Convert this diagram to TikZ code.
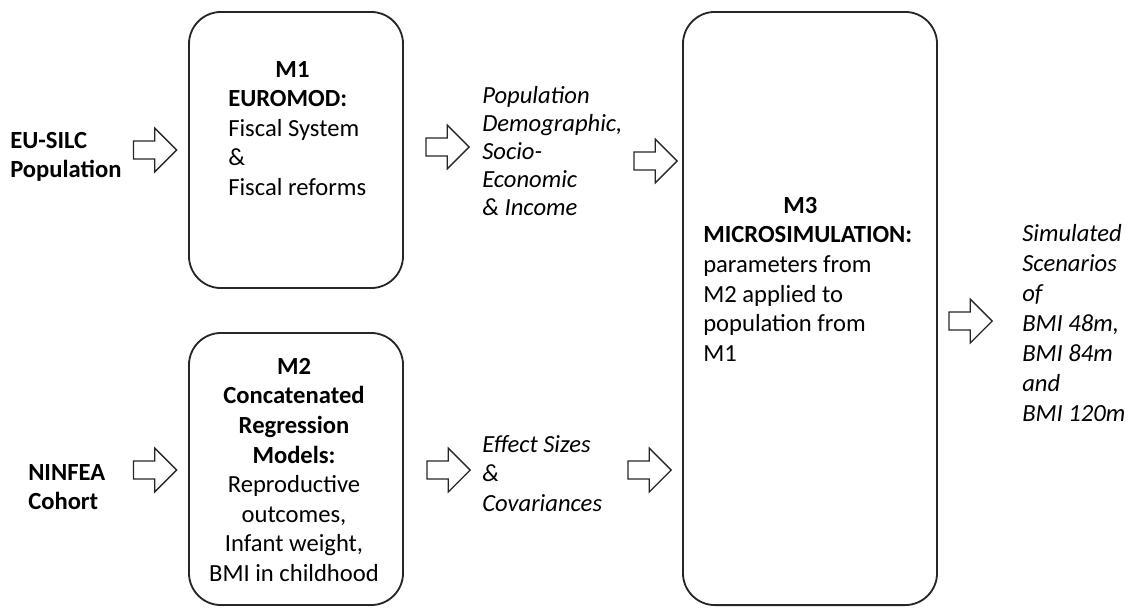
\documentclass[tikz,border=0pt]{standalone}
\usepackage{fontspec}
\setmainfont{Carlito}
\usetikzlibrary{shapes.arrows}

\begin{document}
\begin{tikzpicture}[x=0.025cm,y=-0.025cm,
  modbox/.style={draw=black!85,line width=1.3pt,rounded corners=0.8cm},
  blockarr/.style={draw=black!85,line width=0.9pt,single arrow,single arrow head extend=0.32cm,
    inner xsep=0pt,inner ysep=0.21cm,minimum height=1.08cm},
  txt/.style={anchor=north west,inner sep=0pt,align=left,font=\fontsize{17.5}{21}\selectfont},
  itxt/.style={txt,font=\fontsize{17.5}{20}\selectfont\itshape}]
\useasboundingbox (0,0) rectangle (1129,608);
% the three models
\node[modbox,minimum width=5.35cm,minimum height=6.9cm] (m1) at (296,150) {};
\node[modbox,minimum width=5.35cm,minimum height=6.8cm] (m2) at (296,469) {};
\node[modbox,minimum width=6.35cm,minimum height=14.825cm] (m3) at (810,308.5) {};
\node[txt] (m1txt) at (228,61) {\textbf{\hspace*{1.18cm}M1}\\\textbf{EUROMOD:}\\Fiscal System\\\&\\Fiscal reforms};
\node[txt,anchor=north,align=center] (m2txt) at (294,358) {\textbf{M2}\\\textbf{Concatenated}\\\textbf{Regression}\\\textbf{Models:}\\Reproductive\\outcomes,\\Infant weight,\\BMI in childhood};
\node[txt] (m3txt) at (703,197) {\textbf{\hspace*{2cm}M3}\\\textbf{MICROSIMULATION:}\\parameters from\\M2 applied to\\population from\\M1};
% data sources and outputs
\node[txt,font=\fontsize{17.5}{21}\selectfont\bfseries] (eusilc) at (10,132) {EU-SILC\\Population};
\node[txt,font=\fontsize{17.5}{21}\selectfont\bfseries] (ninfea) at (28,464) {NINFEA\\Cohort};
\node[itxt] (poptxt) at (482,86) {Population\\Demographic,\\Socio-\\Economic\\\& Income};
\node[itxt,font=\fontsize{17.5}{21}\selectfont\itshape] (efftxt) at (482,435) {Effect Sizes\\\&\\Covariances};
\node[itxt,font=\fontsize{17.5}{21.3}\selectfont\itshape] (simtxt) at (1022,224) {Simulated\\Scenarios\\of\\BMI 48m,\\BMI 84m\\and\\BMI 120m};
% block arrows
\node[blockarr] (in1) at (150.5,150) {};
\node[blockarr] (in2) at (150.5,470) {};
\node[blockarr] (m1out) at (443,147) {};
\node[blockarr] (m2out) at (444,470) {};
\node[blockarr] (popin) at (651,161) {};
\node[blockarr] (effin) at (645,470) {};
\node[blockarr] (m3out) at (966,321) {};
\end{tikzpicture}
\end{document}
